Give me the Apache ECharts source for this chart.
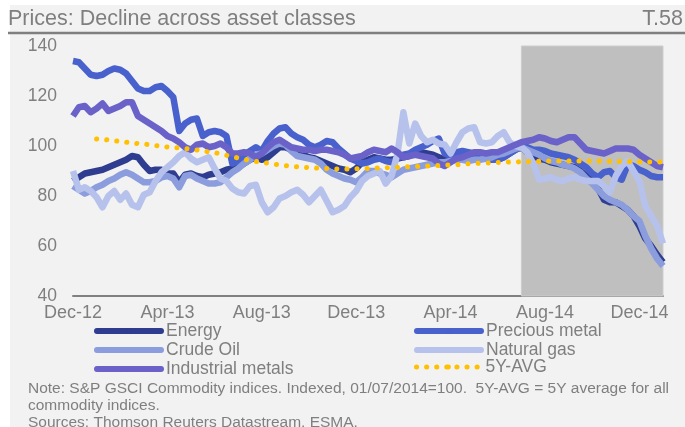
<!DOCTYPE html>
<html>
<head>
<meta charset="utf-8">
<script src="https://cdn.jsdelivr.net/npm/echarts@6/dist/echarts.min.js"></script>
<style>
  html, body { margin: 0; padding: 0; background: #ffffff; }
  #chart { width: 685px; height: 427px; }
</style>
</head>
<body>
<div id="chart"></div>
<script>
// Time positions in months after 1 Dec 2012, one point per quarter month
const months = [];
for (let i = 0; i <= 100; i++) months.push(i / 4);

const xLabels = ['Dec-12', 'Apr-13', 'Aug-13', 'Dec-13', 'Apr-14', 'Aug-14', 'Dec-14'];
const yTicks = [40, 60, 80, 100, 120, 140];

// S&P GSCI sub-indices, 01/07/2014 = 100
const energy = [
  86, 87.5, 89, 89.5, 90, 90.5, 91.5, 92.5, 93.5, 94.5, 96, 95.5,
  92.5, 90, 90.5, 90.5, 89, 89, 85.5, 88.5, 89, 88, 87.5, 88.5,
  89, 89.5, 90.5, 91, 91.5, 93, 94.5, 95.5, 94.5, 95.5, 97.5, 99.5,
  99.5, 98.5, 97.5, 96.5, 95.5, 95, 94, 93, 92, 91, 90.5, 89.5,
  91, 93.5, 94.5, 95.5, 95, 94.5, 94.5, 95, 95.5, 96, 97, 97.5,
  97, 96.5, 95.5, 94.5, 95.5, 96, 96.5, 96, 95.5, 95.5, 95, 94.5,
  94.5, 95.5, 97, 98.5, 99.5, 97.5, 96, 95, 94.5, 93.5, 93, 92.5,
  92, 91.5, 90, 88, 86, 83, 78.5, 77.5, 77.5, 76, 74.5, 72,
  68, 63, 60, 56.5, 53.5
];
const preciousMetal = [
  134, 133.5, 131, 128.5, 128, 128.5, 130, 131, 130.5, 129, 126, 123,
  122, 122, 123.5, 124, 122, 119.5, 106, 109, 110.5, 111, 104, 105.5,
  106, 105.5, 104, 93, 94, 96.5, 98, 99.5, 98, 102, 105, 107,
  107.5, 105, 103.5, 102.5, 100.5, 99.5, 100.5, 102, 101.5, 99, 97, 95,
  94, 93, 93.5, 94.5, 95, 94, 93.5, 95, 96.5, 97, 98.5, 99.5,
  100.5, 102, 103, 97, 96, 97.5, 98, 97.5, 97, 96.5, 95.5, 94.5,
  94.5, 95.5, 97, 98.5, 100, 99.5, 98.5, 98.5, 98, 97, 96.5, 96,
  95.5, 94.5, 93, 91.5, 89, 87.5, 89.5, 90, 87.5, 86.5, 92.5, 92,
  90.5, 89.5, 88, 87.5, 87.5
];
const crudeOil = [
  84, 82.5, 81, 82, 83.5, 84.5, 86, 87, 88.5, 89.5, 88.5, 87,
  85.5, 85.5, 86, 87.5, 88, 87, 83.5, 88, 88.5, 87, 86, 85,
  85, 85.5, 87.5, 89.5, 91, 93, 94.5, 96.5, 97, 98.5, 100, 101,
  100.5, 98, 96, 95.5, 95, 94.5, 93, 90.5, 89, 88, 87, 86.5,
  85.5, 87.5, 90, 90, 89, 88.5, 87.5, 89, 90.5, 91, 91.5, 92,
  92.5, 93, 93.5, 93.5, 94, 94.5, 94.5, 94, 94.5, 94.5, 95, 95.5,
  96.5, 97, 98, 99, 99.5, 98.5, 97.5, 96.5, 95, 94, 93.5, 92.5,
  92, 91, 89.5, 87, 85, 82.5, 80, 78.5, 77.5, 76.5, 74.5, 72,
  70, 64, 59, 55, 52
];
const naturalGas = [
  90, 82.5, 83.5, 82, 79.5, 75.5, 80, 82, 78.5, 81, 76.5, 75.5,
  80.5, 81.5, 86, 89.5, 91.5, 93.5, 96, 97.5, 95, 93.5, 94.5, 95.5,
  91, 87, 86, 83, 81.5, 81, 84, 84.5, 77.5, 73.5, 75.5, 79,
  80, 81.5, 82.5, 80.5, 77.5, 80, 82.5, 78, 73.5, 74.5, 76, 79.5,
  82, 86, 88, 89, 90, 85, 88, 97, 113.5, 101, 109, 104,
  101.5, 102.5, 101, 100.5, 97, 101.5, 105.5, 107, 107.5, 101.5, 101, 101.5,
  104, 105.5, 101.5, 100, 99.5, 97.5, 93, 86.5, 87, 87.5, 86.5, 86,
  87, 87.5, 86.5, 86, 86, 86, 84, 81.5, 88, 92, 94, 90,
  86, 76, 72, 68, 61
];
const industrialMetals = [
  112, 115.5, 116, 113.5, 115, 117, 114, 115, 116, 117.5, 117.5, 112,
  110.5, 109, 107.5, 106, 104, 103, 101.5, 99.5, 98.5, 100.5, 101, 99.5,
  100, 101, 99.5, 97, 97, 97.5, 97, 95.5, 97, 99.5, 101.5, 102.5,
  101, 99.5, 99, 98.5, 98.5, 98, 98.5, 98.5, 98, 97.5, 96.5, 95,
  95.5, 96, 97.5, 98.5, 98, 97.5, 99, 97.5, 95.5, 96, 96.5, 96,
  95.5, 95, 93, 92, 93.5, 95, 95.5, 96.5, 97.5, 97.5, 97, 97.5,
  97.5, 98.5, 99.5, 100.5, 101.5, 102, 102.5, 103.5, 103, 102, 101.5, 102.5,
  103.5, 103.5, 101, 98.5, 98, 97.5, 97, 98, 99, 99, 99, 98.5,
  96.5, 95, 93.5, 92, 91.5
];
const fiveYearAvg = [
  null, null, null, null,
  102.8, 102.6, 102.4, 102.1, 101.8, 101.5, 101.2, 101,
  100.8, 100.5, 100.2, 99.9, 99.6, 99.4, 99.2, 99, 98.7, 98.4, 98.1, 97.6,
  97.3, 96.9, 96.3, 95.7, 95.2, 94.7, 94.2, 93.8, 93.5, 93.1, 92.8, 92.4,
  92.1, 91.9, 91.7, 91.5, 91.4, 91.2, 91.1, 91, 90.9, 90.8, 90.8, 90.8,
  90.9, 90.9, 91, 91.1, 91.2, 91.3, 91.4, 91.5, 91.6, 91.7, 91.8, 91.9,
  92, 92.1, 92.2, 92.3, 92.4, 92.5, 92.7, 92.9, 93, 93.1, 93.2, 93.3,
  93.4, 93.5, 93.6, 93.6, 93.7, 93.8, 93.8, 93.9, 94, 94, 94, 94,
  94, 94, 94, 94, 94, 94, 93.9, 93.9, 93.9, 93.8, 93.8, 93.7,
  93.7, 93.7, 93.6, 93.6, 93.6
];

// Shaded period: from 1 July 2014 to the end of the data
const shadedFrom = 19;
const shadedTo = 25;

const GREY = '#7f7f7f';
const FONT = "'Liberation Sans', Arial, sans-serif";

function pairs(values) {
  return months.map((m, i) => [m, values[i]]);
}

function lineSeries(name, values, color, extra) {
  return Object.assign({
    name: name,
    type: 'line',
    data: pairs(values),
    symbol: 'none',
    smooth: false,
    connectNulls: false,
    animation: false,
    z: 2,
    lineStyle: { color: color, width: 6.5, join: 'round' },
    itemStyle: { color: color },
    emphasis: { disabled: true }
  }, extra || {});
}

const chart = echarts.init(document.getElementById('chart'), null, { renderer: 'canvas' });

const LEGEND_TOP = 322;
const legendCommon = {
  orient: 'vertical',
  top: LEGEND_TOP,
  padding: 0,
  itemWidth: 64,
  itemHeight: 6,
  itemGap: 1,
  selectedMode: false,
  textStyle: { fontFamily: FONT, fontSize: 17.5, color: GREY },
  lineStyle: { width: 6, cap: 'round' }
};

chart.setOption({
  backgroundColor: 'transparent',
  animation: false,
  textStyle: { fontFamily: FONT },
  graphic: [
    { type: 'rect', z: -100, shape: { x: 10, y: 5, width: 675, height: 422 }, style: { fill: '#f2f2f2' } },
    { type: 'line', shape: { x1: 8, y1: 33, x2: 685, y2: 33 }, style: { stroke: GREY, lineWidth: 2.5 } },
    { type: 'text', left: 8, top: 8, style: { text: 'Prices: Decline across asset classes', font: '21.5px ' + FONT, fill: GREY } },
    { type: 'text', right: 2, top: 8, style: { text: 'T.58', font: '21.5px ' + FONT, fill: GREY } },
    { type: 'text', left: 28, top: 380, style: {
        text: 'Note: S&P GSCI Commodity indices. Indexed, 01/07/2014=100.  5Y-AVG = 5Y average for all\ncommodity indices.\nSources: Thomson Reuters Datastream, ESMA.',
        font: '15.5px ' + FONT, fill: GREY, lineHeight: 17 } }
  ],
  grid: { left: 73, right: 22, top: 46, bottom: 131, outerBoundsMode: 'none' },
  legend: [
    Object.assign({}, legendCommon, {
      left: 94,
      data: ['Energy', 'Crude Oil', 'Industrial metals']
    }),
    Object.assign({}, legendCommon, {
      left: 414,
      data: ['Precious metal', 'Natural gas']
    }),
    Object.assign({}, legendCommon, {
      left: 414,
      top: LEGEND_TOP + 36,
      lineStyle: { width: 5, cap: 'round' },
      data: ['5Y-AVG']
    })
  ],
  xAxis: {
    type: 'value',
    min: 0,
    max: 25,
    interval: 4,
    splitLine: { show: false },
    axisTick: { show: false },
    axisLine: { show: true, onZero: false, lineStyle: { color: '#808080', width: 2 } },
    axisLabel: {
      color: GREY, fontSize: 18, fontFamily: FONT, margin: 8,
      showMaxLabel: false,
      formatter: function (v) {
        const k = Math.round(v / 4);
        return Math.abs(v - k * 4) < 1e-6 && xLabels[k] ? xLabels[k] : '';
      }
    }
  },
  yAxis: {
    type: 'value',
    min: yTicks[0],
    max: yTicks[yTicks.length - 1],
    interval: 20,
    splitLine: { show: false },
    axisTick: { show: false },
    axisLine: { show: false },
    axisLabel: { color: GREY, fontSize: 17.5, fontFamily: FONT, margin: 16 }
  },
  series: [
    lineSeries('Energy', energy, '#2e3d8f', {
      markArea: {
        silent: true,
        z: 1,
        itemStyle: { color: '#bfbfbf', borderColor: '#cdcdcd', borderWidth: 1 },
        data: [[{ xAxis: shadedFrom }, { xAxis: shadedTo }]]
      }
    }),
    lineSeries('Precious metal', preciousMetal, '#4861cc'),
    lineSeries('Crude Oil', crudeOil, '#8c9dde'),
    lineSeries('Natural gas', naturalGas, '#b6c2ec'),
    lineSeries('Industrial metals', industrialMetals, '#6a61c9'),
    lineSeries('5Y-AVG', fiveYearAvg, '#ffc000', {
      z: 3,
      lineStyle: { color: '#ffc000', width: 5, type: [0.1, 10], cap: 'round' }
    })
  ]
});
</script>
</body>
</html>
